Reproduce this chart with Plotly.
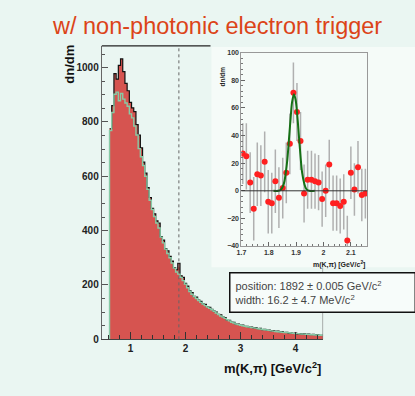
import numpy as np
import plotly.graph_objects as go

# main histogram: m(K,pi) spectrum, 0.04 GeV bins starting at 0.62
bin_lo = 0.62
bin_w = 0.04
counts = [
    775, 860, 978, 958, 1008, 1032, 985, 942, 915, 872,
    852, 838, 790, 752, 705, 652, 612, 558, 522, 482,
    462, 436, 428, 378, 365, 334, 326, 305, 288, 264,
    256, 280, 234, 228, 206, 196, 178, 172, 158, 155,
    144, 140, 131, 129, 120, 118, 110, 104, 100, 92,
    90, 83, 80, 71, 70, 63, 62, 56, 56, 52,
    52, 48, 48, 45, 45, 42, 43, 39, 40, 36,
    37, 34, 34, 31, 32, 29, 30, 27, 28, 25,
    26, 23, 24, 22, 23, 20, 21, 19, 20, 18,
    19, 17, 18, 16, 17, 15, 15,
]
# scaled background (green line)
bkg = [
    768, 835, 902, 910, 878, 905, 884, 870, 858, 830,
    815, 785, 752, 702, 672, 640, 600, 552, 512, 478,
    452, 428, 410, 376, 355, 332, 316, 300, 281, 262,
    248, 240, 228, 216, 203, 190, 176, 166, 157, 150,
    143, 136, 130, 124, 119, 114, 109, 103, 97, 91,
    86, 82, 77, 72, 68, 63, 60, 56, 54, 52,
    50, 48, 46, 45, 43, 42, 41, 39, 38, 36,
    35, 34, 33, 31, 30, 29, 28, 27, 26, 25,
    25, 24, 23, 22, 21, 21, 20, 19, 19, 18,
    18, 17, 17, 16, 16, 15, 15,
]
main_ticks = [1, 2, 3, 4]
d0_line = 1.88

# inset: background-subtracted signal
sig_x = [1.705, 1.718, 1.732, 1.745, 1.758, 1.771, 1.785, 1.798, 1.811, 1.824,
         1.837, 1.851, 1.864, 1.877, 1.890, 1.903, 1.916, 1.929, 1.942, 1.956,
         1.969, 1.982, 1.995, 2.008, 2.021, 2.035, 2.048, 2.061, 2.074, 2.087,
         2.100, 2.113, 2.126, 2.140, 2.153]
sig_y = [27, 25, 6, -13, 12, 11, 21, -8, -9, 7,
         -5, 2, 13, 34, 71, 57, 36, -2, 8, 8,
         7, 6, -6, 0, 19, -9, -9, -11, -8, -36,
         13, 1, 17, -3, -2]
sig_err = [22, 24, 22, 23, 23, 22, 22, 23, 22, 23,
           22, 22, 22, 22, 22, 21, 21, 21, 21, 21,
           20, 20, 20, 19, 18, 20, 20, 20, 20, 18,
           19, 19, 19, 19, 18]
fit_x = [1.817, 1.835, 1.845, 1.855, 1.862, 1.868, 1.874, 1.880, 1.885, 1.892,
         1.898, 1.904, 1.910, 1.916, 1.922, 1.930, 1.938, 1.948, 1.968]
fit_y = [0, 0, 1, 5, 13, 23, 38, 53, 64, 70, 66, 55, 40, 25, 13, 5, 1, 0, 0]
ins_xticks = [1.7, 1.8, 1.9, 2.0, 2.1]
ins_xlabels = ["1.7", "1.8", "1.9", "2", "2.1"]
ins_yticks = [-40, -20, 0, 20, 40, 60, 80, 100]

W, H = 415, 396
def px(x):
    return x / W
def py(y):
    return 1 - y / H

edges = bin_lo + bin_w * np.arange(len(counts) + 1)
hx = list(edges)
hy = counts + [counts[-1]]
gx = [edges[0]] + list(edges)
gy = [0] + bkg + [bkg[-1]]

FONT = "Liberation Sans, Arial, sans-serif"
BG = "#eaf6f2"
INSET_BG = "#f5fbf8"

fig = go.Figure()

fig.add_trace(go.Scatter(
    x=hx, y=hy, mode="lines", line_shape="hv",
    line=dict(color="#111111", width=1.2),
    fill="tozeroy", fillcolor="#d65450",
    xaxis="x", yaxis="y", showlegend=False))
fig.add_trace(go.Scatter(
    x=gx, y=gy, mode="lines", line_shape="hv",
    line=dict(color="#86cba6", width=1.4),
    xaxis="x", yaxis="y", showlegend=False))

fig.add_trace(go.Scatter(
    x=sig_x, y=sig_y, mode="markers",
    marker=dict(color="#ff2020", size=6),
    error_y=dict(type="data", array=sig_err, color="#b0b0b0", thickness=1.5, width=0),
    xaxis="x2", yaxis="y2", showlegend=False))
fig.add_trace(go.Scatter(
    x=fit_x, y=fit_y, mode="lines", line_shape="spline",
    line=dict(color="#157015", width=2),
    xaxis="x2", yaxis="y2", showlegend=False))

tick_font = dict(family=FONT, size=10, color="#222", weight="bold")
small_font = dict(family=FONT, size=7, color="#333", weight="bold")

fig.update_layout(
    width=W, height=H, autosize=False,
    margin=dict(l=0, r=0, t=0, b=0),
    paper_bgcolor=BG, plot_bgcolor="rgba(0,0,0,0)",
    xaxis=dict(domain=[px(98), px(322)], range=[0.48, 4.5], anchor="y",
               tickvals=main_ticks, ticks="inside", ticklen=7, tickcolor="#333",
               minor=dict(dtick=0.2, ticks="inside", ticklen=4, tickcolor="#333"),
               showline=True, linecolor="#444", linewidth=1.2,
               showgrid=False, zeroline=False, tickfont=tick_font),
    yaxis=dict(domain=[py(344), py(43)], range=[0, 1080], anchor="x",
               dtick=200, ticks="inside", ticklen=6, tickcolor="#555",
               minor=dict(dtick=50, ticks="inside", ticklen=3, tickcolor="#555"),
               showline=True, linecolor="#666", linewidth=1.2,
               showgrid=False, zeroline=False, tickfont=tick_font),
    xaxis2=dict(domain=[px(239.3), px(366.7)], range=[1.7, 2.16], anchor="y2",
                tickvals=ins_xticks, ticktext=ins_xlabels,
                ticks="inside", ticklen=4, tickcolor="#666",
                minor=dict(dtick=0.02, ticks="inside", ticklen=2, tickcolor="#777"),
                showline=True, mirror=True, linecolor="#999", linewidth=1,
                showgrid=False, zeroline=False, tickfont=small_font),
    yaxis2=dict(domain=[py(248.3), py(50)], range=[-40, 100], anchor="x2",
                tickvals=ins_yticks, ticks="inside", ticklen=4, tickcolor="#666",
                minor=dict(dtick=4, ticks="inside", ticklen=2, tickcolor="#777"),
                showline=True, mirror=True, linecolor="#999", linewidth=1,
                showgrid=False, zeroline=False, tickfont=small_font),
)

# inset picture background, main frame top/right pieces, marker line
fig.add_shape(type="rect", xref="paper", yref="paper", layer="below",
              x0=px(209), x1=px(415), y0=py(270), y1=py(44),
              fillcolor=INSET_BG, line_width=0)
fig.add_shape(type="line", xref="paper", yref="paper",
              x0=px(98), x1=px(208), y0=py(43), y1=py(43),
              line=dict(color="#222", width=1.2))
fig.add_shape(type="line", xref="x", yref="paper",
              x0=4.5, x1=4.5, y0=py(344), y1=py(270),
              line=dict(color="#777", width=1.2))
fig.add_shape(type="line", xref="x", yref="y",
              x0=d0_line, x1=d0_line, y0=0, y1=1080,
              line=dict(color="#666", width=1, dash="dot"))
fig.add_shape(type="line", xref="x2 domain", yref="y2",
              x0=0, x1=1, y0=0, y1=0,
              line=dict(color="#333", width=1))

fig.add_annotation(text="w/ non-photonic electron trigger", showarrow=False,
                   xref="paper", yref="paper", x=px(215), y=py(23),
                   xanchor="center", yanchor="middle",
                   font=dict(family=FONT, size=23.5, color="#dc4418"))
fig.add_annotation(text="dn/dm", showarrow=False, textangle=-90,
                   xref="paper", yref="paper", x=px(65), y=py(62),
                   xanchor="center", yanchor="middle",
                   font=dict(family=FONT, size=13, color="#111", weight="bold"))
fig.add_annotation(text="m(K,π) [GeV/c<sup>2</sup>]", showarrow=False,
                   xref="paper", yref="paper", x=px(322), y=py(373),
                   xanchor="right", yanchor="middle",
                   font=dict(family=FONT, size=13, color="#111", weight="bold"))
fig.add_annotation(text="dn/dm", showarrow=False, textangle=-90,
                   xref="paper", yref="paper", x=px(220), y=py(74),
                   xanchor="center", yanchor="middle",
                   font=dict(family=FONT, size=6.5, color="#222", weight="bold"))
fig.add_annotation(text="m(K,π) [GeV/c<sup>2</sup>]", showarrow=False,
                   xref="paper", yref="paper", x=px(366), y=py(267),
                   xanchor="right", yanchor="middle",
                   font=dict(family=FONT, size=7, color="#222", weight="bold"))
fig.add_annotation(text="position: 1892 ± 0.005 GeV/c<sup>2</sup><br>width: 16.2 ± 4.7 MeV/c<sup>2</sup>",
                   showarrow=False, align="left",
                   xref="paper", yref="paper", x=px(227), y=py(275),
                   xanchor="left", yanchor="top",
                   width=176, height=30, borderpad=4,
                   bgcolor="#f7fcfa", bordercolor="#111", borderwidth=1.5,
                   font=dict(family=FONT, size=11, color="#444"))

fig.write_html("out.html", config={"displayModeBar": False},
               post_script="document.body.style.margin='0';document.body.style.overflow='hidden';")
